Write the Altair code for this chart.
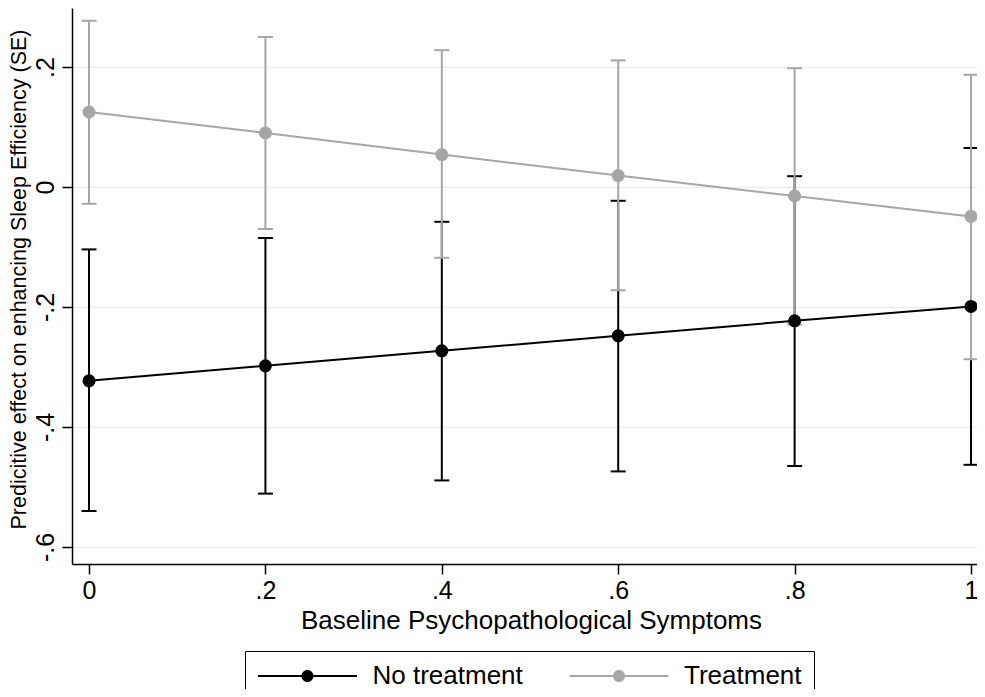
import altair as alt
import pandas as pd

# ---- data ----
groups = ["No treatment", "Treatment"]
colors = ["#000000", "#a6a6a6"]

x_vals = [0.0, 0.2, 0.4, 0.6, 0.8, 1.0]

no_mean = [-0.323, -0.298, -0.273, -0.248, -0.223, -0.199]
no_lo = [-0.540, -0.511, -0.489, -0.474, -0.465, -0.463]
no_hi = [-0.104, -0.085, -0.058, -0.023, 0.018, 0.065]

tr_mean = [0.125, 0.090, 0.054, 0.019, -0.015, -0.049]
tr_lo = [-0.028, -0.070, -0.118, -0.172, -0.229, -0.287]
tr_hi = [0.277, 0.250, 0.228, 0.211, 0.198, 0.187]

x_tick_vals = [0.0, 0.2, 0.4, 0.6, 0.8, 1.0]
x_tick_labels = ["0", ".2", ".4", ".6", ".8", "1"]
y_tick_vals = [-0.6, -0.4, -0.2, 0.0, 0.2]
y_tick_labels = ["-.6", "-.4", "-.2", "0", ".2"]

x_title = "Baseline Psychopathological Symptoms"
y_title = "Predicitive effect on enhancing Sleep Efficiency (SE)"

rows = []
for g, m, lo, hi in [(groups[0], no_mean, no_lo, no_hi), (groups[1], tr_mean, tr_lo, tr_hi)]:
    for i, x in enumerate(x_vals):
        rows.append({"group": g, "order": groups.index(g), "x": x, "mean": m[i], "lo": lo[i], "hi": hi[i]})
df = pd.DataFrame(rows)


def label_expr(vals, labels):
    expr = "''"
    for v, l in reversed(list(zip(vals, labels))):
        expr = f"abs(datum.value - ({v})) < 1e-6 ? '{l}' : ({expr})"
    return expr


FONT = "Liberation Sans"

x_scale = alt.Scale(domain=[-0.0193, 1.0068], nice=False, zero=False)
y_scale = alt.Scale(domain=[-0.6283, 0.2983], nice=False, zero=False)

x_axis = alt.Axis(
    values=x_tick_vals, labelExpr=label_expr(x_tick_vals, x_tick_labels),
    title=x_title, titleFontSize=26, titleFontWeight="normal", titleColor="black",
    titleX=459, titleY=64, titleAlign="center", titleBaseline="alphabetic",
    labelFontSize=25, labelColor="black", labelPadding=4, labelFont=FONT, titleFont=FONT,
    tickSize=10, tickWidth=1.5, tickColor="black",
    domainColor="black", domainWidth=1.5, grid=False,
)
y_axis = alt.Axis(
    values=y_tick_vals, labelExpr=label_expr(y_tick_vals, y_tick_labels),
    title=y_title, titleFontSize=21.5, titleFontWeight="normal", titleColor="black",
    titleAngle=270, titleX=-53, titleY=271, titleAlign="center", titleBaseline="middle",
    labelFontSize=25, labelColor="black", labelAngle=270, labelAlign="center",
    labelBaseline="bottom", labelPadding=4, labelFont=FONT, titleFont=FONT,
    tickSize=10, tickWidth=1.5, tickColor="black",
    domainColor="black", domainWidth=1.5,
    grid=True, gridColor="#e6eef1", gridWidth=1.5,
)

X = alt.X("x:Q", scale=x_scale, axis=x_axis)

base = alt.Chart(df)


def ci_layers(group, color):
    sub = base.transform_filter(alt.datum.group == group)
    rules = sub.mark_rule(strokeWidth=2, color=color, opacity=1).encode(
        x=X, y=alt.Y("lo:Q", scale=y_scale, axis=y_axis), y2="hi:Q"
    )
    cap_lo = sub.mark_tick(orient="horizontal", size=15, thickness=2, color=color, opacity=1).encode(
        x=X, y=alt.Y("lo:Q", scale=y_scale, axis=y_axis)
    )
    cap_hi = sub.mark_tick(orient="horizontal", size=15, thickness=2, color=color, opacity=1).encode(
        x=X, y=alt.Y("hi:Q", scale=y_scale, axis=y_axis)
    )
    return [rules, cap_lo, cap_hi]


def line_layer(group, color):
    sub = base.transform_filter(alt.datum.group == group)
    return sub.mark_line(strokeWidth=2, color=color).encode(
        x=X, y=alt.Y("mean:Q", scale=y_scale, axis=y_axis)
    )


# legend symbol: short line with a dot in the middle (filled path, unit r = 5px)
legend_symbol = (
    "M -9.9 -0.2 L -1.2 -0.2 L -1.2 0.2 L -9.9 0.2 Z "
    "M 1.2 -0.2 L 9.9 -0.2 L 9.9 0.2 L 1.2 0.2 Z "
    "M -1.2 0 A 1.2 1.2 0 1 0 1.2 0 A 1.2 1.2 0 1 0 -1.2 0 Z"
)
leg = alt.Legend(
    title=None, orient="none", legendX=173, legendY=643, direction="horizontal",
    columns=2, symbolType=legend_symbol, symbolSize=100, symbolStrokeWidth=0,
    symbolOffset=37.5, symbolOpacity=1, labelOffset=52, labelFontSize=26,
    labelFont=FONT, labelColor="black", labelLimit=400, columnPadding=45.5,
    padding=12, strokeColor="black",
)
points = base.mark_point(filled=True, size=170, opacity=1).encode(
    x=X,
    y=alt.Y("mean:Q", scale=y_scale, axis=y_axis),
    color=alt.Color("group:N", scale=alt.Scale(domain=groups, range=colors), legend=leg),
    order=alt.Order("order:Q"),
)

layers = (
    ci_layers(groups[0], colors[0])
    + ci_layers(groups[1], colors[1])
    + [line_layer(groups[0], colors[0]), line_layer(groups[1], colors[1]), points]
)

chart = (
    alt.layer(*layers)
    .properties(
        width=905, height=556,
        padding={"left": 64, "top": 0, "right": 0, "bottom": 125},
        autosize=alt.AutoSizeParams(type="none"),
        background="white",
    )
    .configure(font=FONT)
    .configure_view(stroke=None)
)

chart.save("out.html", embed_options={"renderer": "svg", "actions": False})
